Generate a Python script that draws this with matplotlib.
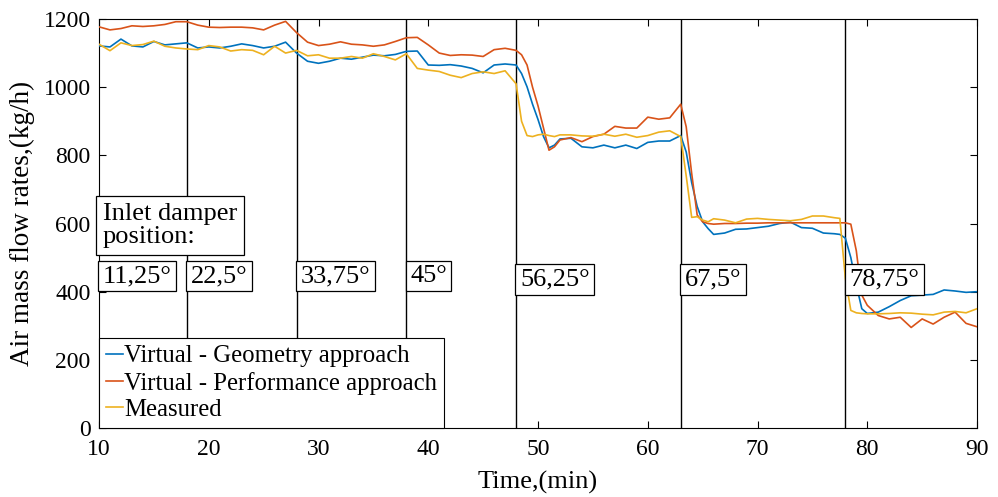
import matplotlib
matplotlib.use('Agg')
import matplotlib.pyplot as plt

plt.rcParams['font.family'] = ['Liberation Serif', 'DejaVu Serif']

# time axis (min) - half-minute points around the steps
time = list(range(10, 48)) + [48, 48.5, 49, 49.5, 50, 50.5, 51, 51.5] + list(range(52, 63)) + \
    [63, 63.5, 64, 64.5, 65, 65.5] + list(range(66, 77)) + [77, 77.5, 78, 78.5, 79, 79.5, 80, 80.5] + list(range(81, 91))

geometry = [1121, 1118, 1141, 1121, 1118, 1134, 1124, 1127, 1130, 1115,
            1118, 1115, 1120, 1127, 1122, 1115, 1120, 1132, 1100, 1076,
            1070, 1076, 1085, 1082, 1088, 1094, 1092, 1096, 1105, 1106,
            1065, 1064, 1066, 1062, 1055, 1042, 1065, 1068,
            1065, 1040, 1001, 950, 905, 855, 822, 830,
            848, 850, 825, 822, 830, 822, 830, 820, 838, 842, 842,
            858, 810, 720, 650, 605, 585,
            568, 572, 583, 584, 588, 592, 600, 604, 588, 586, 572,
            570, 568, 557, 500, 420, 350, 336, 338,
            340, 356, 374, 388, 390, 392, 405, 402, 398, 400]

performance = [1177, 1168, 1172, 1180, 1178, 1180, 1184, 1192, 1192, 1182,
               1176, 1175, 1176, 1176, 1174, 1168, 1182, 1193, 1160, 1132,
               1122, 1126, 1133, 1126, 1124, 1120, 1124, 1134, 1145, 1146,
               1124, 1100, 1093, 1095, 1094, 1090, 1110, 1114,
               1108, 1095, 1065, 1000, 945, 880, 815, 825,
               845, 852, 840, 855, 862, 885, 880, 880, 912, 906, 910,
               950, 884, 747, 625, 605, 600,
               598, 600, 600, 601, 601, 602, 602, 602, 602, 602, 602,
               602, 602, 602, 598, 520, 390, 360, 345,
               330, 320, 325, 295, 320, 305, 325, 340, 307, 297]

measured = [1126, 1107, 1130, 1122, 1125, 1135, 1120, 1115, 1112, 1110,
            1122, 1118, 1106, 1110, 1108, 1095, 1120, 1100, 1108, 1092,
            1095, 1085, 1085, 1090, 1085, 1098, 1090, 1080, 1098, 1055,
            1050, 1046, 1035, 1028, 1040, 1045, 1040, 1048,
            1010, 900, 858, 855, 860, 862, 858, 855,
            860, 860, 857, 856, 862, 856, 862, 853, 858, 868, 872,
            855, 740, 618, 620, 610, 605,
            614, 610, 602, 613, 615, 612, 610, 608, 612, 622, 622,
            617, 615, 440, 345, 338, 336, 335, 335,
            335, 336, 338, 337, 334, 332, 340, 342, 338, 350]

step_times = [18, 28, 38, 48, 63, 78]
damper_labels = ['11,25°', '22,5°', '33,75°', '45°', '56,25°', '67,5°', '78,75°']
label_x = [10, 18, 28, 38, 48, 63, 78]
label_y = [446, 446, 446, 446, 436, 436, 436]

fig = plt.figure(figsize=(9.98, 4.97), dpi=100)
ax = fig.add_axes([0.0992, 0.1388, 0.8798, 0.823])

for t in step_times:
    ax.axvline(t, color='black', lw=1.0, zorder=1)

ax.plot(time, geometry, color='#0072BD', lw=1.2, label='Virtual - Geometry approach', zorder=3)
ax.plot(time, performance, color='#D95319', lw=1.2, label='Virtual - Performance approach', zorder=3)
ax.plot(time, measured, color='#EDB120', lw=1.2, label='Measured', zorder=3)

ax.set_xlim(10, 90)
ax.set_ylim(0, 1200)
ax.set_xticks(range(10, 91, 10))
ax.set_yticks(range(0, 1201, 200))
ax.tick_params(direction='in', top=True, right=True, labelsize=17, length=5, width=0.8)
ax.tick_params(axis='x', pad=8)
ax.tick_params(axis='y', pad=6)
ax.set_xlabel('Time,(min)', fontsize=19, labelpad=8)
ax.set_ylabel('Air mass flow rates,(kg/h)', fontsize=19.5, labelpad=6)
for s in ax.spines.values():
    s.set_linewidth(0.8)

ax.text(10.35, 594, 'Inlet damper\nposition:', fontsize=19, va='center', ha='left', linespacing=1.1,
        bbox=dict(boxstyle='square,pad=0.25', facecolor='white', edgecolor='black', lw=0.9), zorder=5)
box = dict(boxstyle='square,pad=0.17', facecolor='white', edgecolor='black', lw=0.9)
for x, y, lab in zip(label_x, label_y, damper_labels):
    ax.text(x + 0.35, y, lab, fontsize=19, va='center', ha='left', bbox=box, zorder=5)

leg = ax.legend(loc='lower left', fontsize=17.8, handlelength=0.7, handletextpad=0.05,
                borderaxespad=0, borderpad=0.28, labelspacing=0.17, fancybox=False,
                framealpha=1, edgecolor='black')
leg.get_frame().set_linewidth(0.8)
leg.set_zorder(6)

fig.savefig('out.png', dpi=100)
